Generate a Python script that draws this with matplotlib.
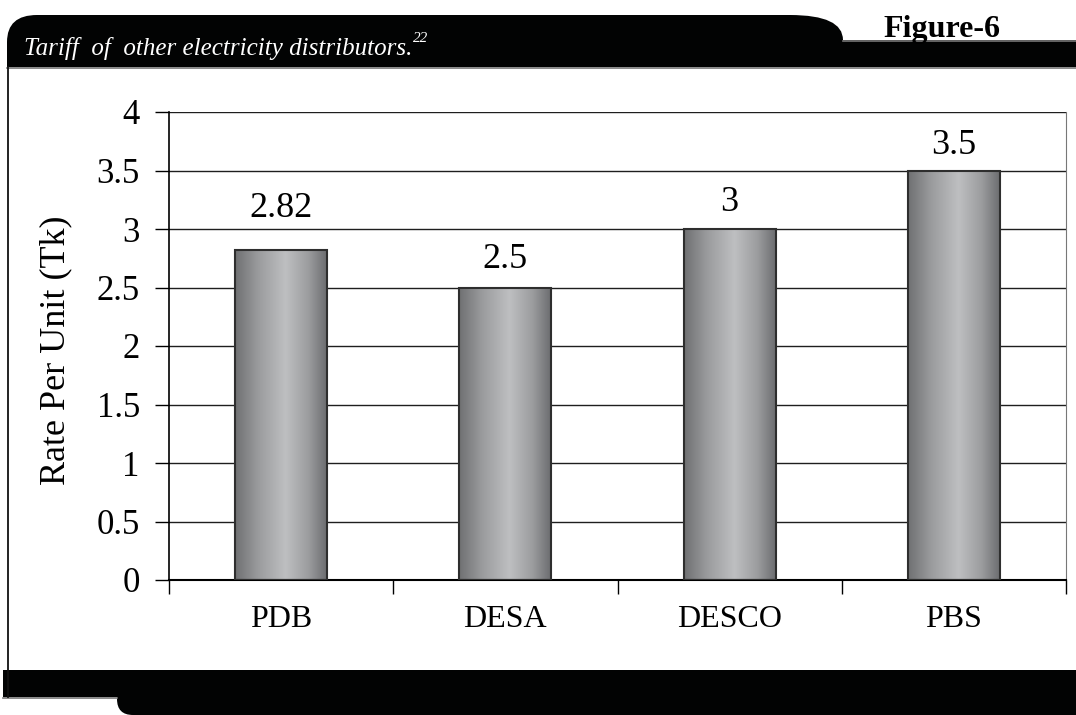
import numpy as np
import matplotlib
matplotlib.use("Agg")
import matplotlib.pyplot as plt
from matplotlib.path import Path
from matplotlib.patches import PathPatch
from matplotlib.colors import LinearSegmentedColormap

# data
distributors = ["PDB", "DESA", "DESCO", "PBS"]
rates = [2.82, 2.5, 3.0, 3.5]
value_labels = ["2.82", "2.5", "3", "3.5"]
y_ticks = [0, 0.5, 1, 1.5, 2, 2.5, 3, 3.5, 4]
y_tick_labels = ["0", "0.5", "1", "1.5", "2", "2.5", "3", "3.5", "4"]

title_text = "Tariff  of  other electricity distributors."
title_note = "22"
figure_tag = "Figure-6"
y_title = "Rate Per Unit (Tk)"

# gap between bar top and its value label, in points (as placed in the original)
label_gap = [24, 14, 13, 12]

W, H = 1076, 715
plt.rcParams["font.family"] = ["Liberation Serif", "DejaVu Serif"]

fig = plt.figure(figsize=(W / 100, H / 100), dpi=100)
fig.patch.set_facecolor("white")

# frame decoration drawn in pixel coordinates on an overlay axes
deco = fig.add_axes([0, 0, 1, 1], zorder=0)
deco.set_xlim(0, W)
deco.set_ylim(H, 0)
deco.axis("off")

M, L, C3, C4 = Path.MOVETO, Path.LINETO, Path.CURVE3, Path.CLOSEPOLY
top_verts = [(7, 67), (7, 42), (7, 15), (37, 15), (790, 15), (843, 15), (843, 40),
             (1076, 40), (1076, 67), (7, 67)]
top_codes = [M, L, C3, C3, L, C3, C3, L, L, C4]
deco.add_patch(PathPatch(Path(top_verts, top_codes), facecolor="#020303", edgecolor="none"))

bot_verts = [(3, 670), (1076, 670), (1076, 715), (133, 715), (117, 715), (117, 699),
             (117, 697), (3, 697), (3, 670)]
bot_codes = [M, L, L, L, C3, C3, L, L, C4]
deco.add_patch(PathPatch(Path(bot_verts, bot_codes), facecolor="#020303", edgecolor="none"))

deco.plot([7, 1076], [67.5, 67.5], color="#777777", lw=1.2)
deco.plot([843, 1076], [40.5, 40.5], color="#777777", lw=1.2)
deco.plot([3, 117], [697.5, 697.5], color="#777777", lw=1.2)
deco.plot([7.5, 7.5], [67, 697], color="#111111", lw=1.3)

t_main = deco.text(24, 55, title_text, color="white", fontsize=18, style="italic",
                   family="Liberation Serif", ha="left", va="baseline")
fig.canvas.draw()
bb = t_main.get_window_extent()
deco.text(bb.x1 + 1, 42, title_note, color="white", fontsize=11, style="italic",
          family="Liberation Serif", ha="left", va="baseline")
deco.text(883, 37, figure_tag, color="black", fontsize=23, fontweight="bold",
          ha="left", va="baseline")

# chart
ax = fig.add_axes([169 / W, (H - 580) / H, (1066 - 169) / W, (580 - 112) / H], zorder=1)
ax.patch.set_alpha(0)
x = np.arange(len(distributors))
ax.set_axisbelow(True)
ax.yaxis.grid(True, color="#1e1e1e", lw=1)

bars = ax.bar(x, rates, width=0.41, facecolor="none", edgecolor="#2e2e2e", lw=1.5, zorder=3)

grad = LinearSegmentedColormap.from_list(
    "cyl", [(0.0, "#6f7072"), (0.25, "#9a9b9d"), (0.55, "#bebfc1"), (0.8, "#9c9d9f"), (1.0, "#6c6d70")])
ramp = np.linspace(0, 1, 256).reshape(1, -1)
for b in bars:
    x0, w, h = b.get_x(), b.get_width(), b.get_height()
    im = ax.imshow(ramp, cmap=grad, extent=[x0, x0 + w, 0, h], aspect="auto",
                   origin="lower", zorder=2, interpolation="bilinear")
    im.set_clip_path(b)

for xi, r, lab, gap in zip(x, rates, value_labels, label_gap):
    ax.annotate(lab, (xi, r), xytext=(0, gap), textcoords="offset points",
                ha="center", va="baseline", fontsize=26)

ax.set_xlim(-0.5, len(distributors) - 0.5)
ax.set_ylim(0, 4)
ax.set_yticks(y_ticks)
ax.set_yticklabels(y_tick_labels, fontsize=25)
ax.set_xticks(x)
ax.set_xticklabels(distributors, fontsize=23)
ax.set_xticks(np.arange(-0.5, len(distributors)), minor=True)
ax.tick_params(axis="x", which="major", length=0, pad=18)
ax.tick_params(axis="x", which="minor", length=10, width=1, direction="out")
ax.tick_params(axis="y", length=10, width=1, direction="out", pad=11)

ax.spines["top"].set_visible(False)
ax.spines["right"].set_color("#777777")
ax.spines["left"].set_color("black")
ax.spines["bottom"].set_color("black")
ax.spines["left"].set_linewidth(1.2)
ax.spines["bottom"].set_linewidth(1.5)

ax.set_ylabel(y_title, fontsize=26, va="center")
ax.yaxis.set_label_coords(-0.126, 0.49)

fig.savefig("out.png", dpi=100)
